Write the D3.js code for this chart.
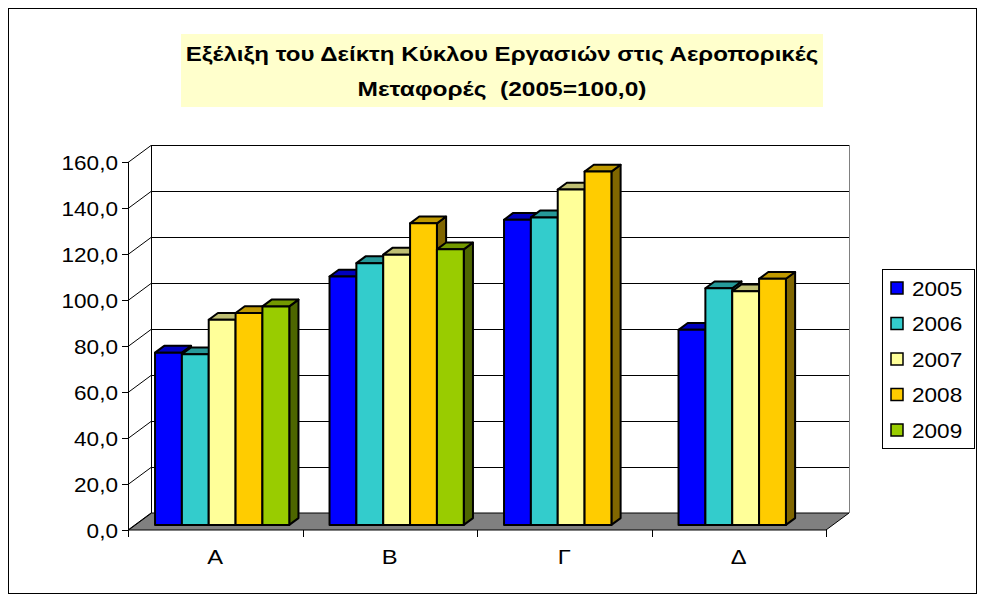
<!DOCTYPE html>
<html>
<head>
<meta charset="utf-8">
<script src="https://cdn.jsdelivr.net/npm/d3@7/dist/d3.min.js"></script>
<style>
  html, body { margin: 0; padding: 0; background: #ffffff; }
  svg { display: block; font-family: "Liberation Sans", Arial, sans-serif; }
</style>
</head>
<body>
<svg id="chart" width="984" height="601"></svg>
<script>
// data
const categories = ["Α", "Β", "Γ", "Δ"];
const years = ["2005", "2006", "2007", "2008", "2009"];
const values2005 = [74.9, 108.0, 132.7, 84.8];
const values2006 = [74.2, 113.8, 133.7, 102.9];
const values2007 = [89.2, 117.5, 145.8, 101.6];
const values2008 = [92.1, 131.1, 153.6, 107.0];
const values2009 = [95.0, 119.8, null, null];
const yTicks = [0, 20, 40, 60, 80, 100, 120, 140, 160];
const titleLines = ["Εξέλιξη του Δείκτη Κύκλου Εργασιών στις Αεροπορικές", "Μεταφορές  (2005=100,0)"];

const seriesValues = [values2005, values2006, values2007, values2008, values2009];
const colors = ["#0000ff", "#33cccc", "#ffff99", "#ffcc00", "#99cc00"];

// geometry of the 3d box
const frontX = 128, frontY = 530, plotW = 698;
const depthX = 23, depthY = 17;
const TEXT_SX = 1.13;

const svg = d3.select("#chart");

// chart border
svg.append("rect")
  .attr("x", 8.5).attr("y", 8.5)
  .attr("width", 968).attr("height", 585)
  .attr("fill", "#fff").attr("stroke", "#000");

// title
const title = svg.append("g");
title.append("rect")
  .attr("x", 181).attr("y", 34)
  .attr("width", 642).attr("height", 73)
  .attr("fill", "#ffffcc");
const titleWidths = [633, 289];
titleLines.forEach((t, i) => {
  const txt = title.append("text")
    .attr("text-anchor", "middle")
    .attr("font-size", 20)
    .attr("font-weight", "bold")
    .style("white-space", "pre")
    .text(t);
  // stretch glyphs to the width seen in the picture
  const sx = titleWidths[i] / txt.node().getComputedTextLength();
  txt.attr("transform", `translate(502,${61 + i * 35}) scale(${sx},1)`);
});

const yScale = d3.scaleLinear().domain([0, 160]).range([0, 368]);
const xCat = d3.scaleBand().domain(categories).range([0, plotW]).padding(0);
const xSer = d3.scaleBand().domain(years).range([0, xCat.bandwidth()])
  .paddingInner(0).paddingOuter(0.75);

const grid = svg.append("g")
  .attr("stroke", "#000").attr("stroke-width", 1)
  .attr("shape-rendering", "crispEdges");

// floor
const floorPts = [
  [frontX, frontY], [frontX + plotW, frontY],
  [frontX + plotW + depthX, frontY - depthY], [frontX + depthX, frontY - depthY]
];
svg.append("polygon")
  .attr("points", floorPts.map(p => p.join(",")).join(" "))
  .attr("fill", "#808080").attr("stroke", "#000").attr("stroke-width", 1);

// back wall gridlines + left wall diagonals
yTicks.forEach(v => {
  const yb = frontY - depthY - yScale(v) + 0.5;
  const yf = frontY - yScale(v) + 0.5;
  if (v > 0) {
    grid.append("line")
      .attr("x1", frontX + depthX).attr("x2", frontX + plotW + depthX)
      .attr("y1", yb).attr("y2", yb);
  }
  svg.append("line")
    .attr("x1", frontX).attr("y1", yf)
    .attr("x2", frontX + depthX).attr("y2", yb)
    .attr("stroke", "#000");
});
const topY = yScale(160);
grid.append("line")
  .attr("x1", frontX + depthX + 0.5).attr("x2", frontX + depthX + 0.5)
  .attr("y1", frontY - depthY - topY).attr("y2", frontY - depthY);
grid.append("line")
  .attr("x1", frontX + plotW + depthX + 0.5).attr("x2", frontX + plotW + depthX + 0.5)
  .attr("y1", frontY - depthY - topY).attr("y2", frontY - depthY)
  .attr("stroke", "#808080");
grid.append("line")
  .attr("x1", frontX + 0.5).attr("x2", frontX + 0.5)
  .attr("y1", frontY - topY).attr("y2", frontY + 1);

// value axis ticks and labels
yTicks.forEach(v => {
  const y = frontY - yScale(v) + 0.5;
  grid.append("line").attr("x1", frontX - 6).attr("x2", frontX).attr("y1", y).attr("y2", y);
  svg.append("text")
    .attr("transform", `translate(118,${y + 7}) scale(${TEXT_SX},1)`)
    .attr("text-anchor", "end")
    .attr("font-size", 20)
    .text(d3.format(".1f")(v).replace(".", ","));
});

// category axis ticks and labels
d3.range(categories.length + 1).forEach(i => {
  const x = frontX + i * xCat.step() + 0.5;
  grid.append("line").attr("x1", x).attr("x2", x)
    .attr("y1", i === 0 ? frontY : frontY - 7).attr("y2", frontY + 7);
});
categories.forEach(c => {
  svg.append("text")
    .attr("transform", `translate(${frontX + xCat(c) + xCat.bandwidth() / 2},564) scale(${TEXT_SX},1)`)
    .attr("text-anchor", "middle")
    .attr("font-size", 21)
    .text(c);
});

// bars sit in the middle of the box depth
const barOffX = depthX * 0.3, barOffY = depthY * 0.3;
const barDX = depthX * 0.4, barDY = depthY * 0.4;
const baseY = frontY - barOffY;

const shade = (c, k) => {
  const r = d3.rgb(c);
  return d3.rgb(r.r * k, r.g * k, r.b * k).formatHex();
};

const bars = [];
categories.forEach((c, ci) => {
  years.forEach((yr, si) => {
    const v = seriesValues[si][ci];
    if (v == null) return;
    bars.push({ c, yr, si, v });
  });
});

const barG = svg.append("g")
  .attr("stroke", "#000").attr("stroke-width", 2).attr("stroke-linejoin", "round");

bars.forEach(d => {
  const x = frontX + barOffX + xCat(d.c) + xSer(d.yr);
  const w = xSer.bandwidth();
  const yt = baseY - yScale(d.v);
  const g = barG.append("g");
  g.append("polygon")
    .attr("points", [[x + w, yt], [x + w + barDX, yt - barDY], [x + w + barDX, baseY - barDY], [x + w, baseY]].map(p => p.join(",")).join(" "))
    .attr("fill", shade(colors[d.si], 0.5));
  g.append("polygon")
    .attr("points", [[x, yt], [x + w, yt], [x + w + barDX, yt - barDY], [x + barDX, yt - barDY]].map(p => p.join(",")).join(" "))
    .attr("fill", shade(colors[d.si], 0.75));
  g.append("rect")
    .attr("x", x).attr("y", yt)
    .attr("width", w).attr("height", baseY - yt)
    .attr("fill", colors[d.si]);
});

// legend
const legend = svg.append("g");
legend.append("rect")
  .attr("x", 882.5).attr("y", 269.5)
  .attr("width", 92).attr("height", 179)
  .attr("fill", "#fff").attr("stroke", "#000");
years.forEach((yr, i) => {
  const cy = 288 + i * 35.5;
  legend.append("rect")
    .attr("x", 891).attr("y", cy - 6)
    .attr("width", 12).attr("height", 12)
    .attr("fill", colors[i]).attr("stroke", "#000").attr("stroke-width", 1.5);
  legend.append("text")
    .attr("transform", `translate(912,${cy + 7.5}) scale(${TEXT_SX},1)`)
    .attr("font-size", 20)
    .text(yr);
});
</script>
</body>
</html>
